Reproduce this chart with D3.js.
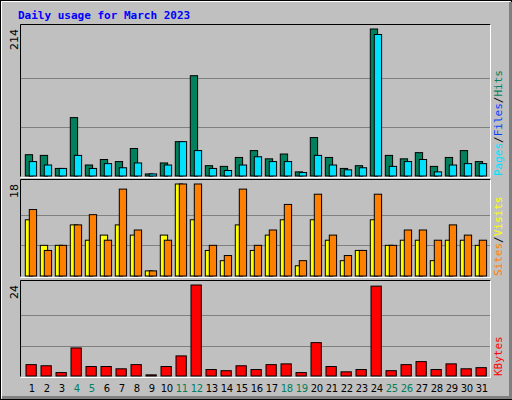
<!DOCTYPE html><html><head><meta charset="utf-8">
<script src="https://cdn.jsdelivr.net/npm/d3@7"></script>
<style>body{margin:0;background:#fff}</style></head><body>
<script>
const days = d3.range(1,32);
const weekends = [4,5,11,12,18,19,25,26];
const hits  = [31,30,11,85,16,24,21,40,3,19,50,146,15,14,27,37,25,32,6,56,27,11,15,214,30,25,34,14,27,37,21];
const pages = [21,16,11,30,11,18,12,19,3,16,50,37,11,8,16,28,21,21,5,30,16,9,12,206,14,21,24,6,16,18,18];
const visits= [11,6,6,10,7,8,10,8,1,8,18,11,5,3,10,5,8,11,2,11,7,3,5,11,6,7,7,3,7,7,6];
const sites = [13,5,6,10,12,7,17,9,1,7,18,18,6,4,17,6,9,14,3,16,8,4,5,16,6,9,9,7,10,8,7];
const kbytes= [3.0,2.7,0.9,7.4,2.5,2.5,1.9,3.0,0.3,2.5,5.3,24,1.7,1.4,2.7,1.7,3.0,3.2,0.9,8.8,2.5,1.1,1.7,23.7,1.4,3.0,3.8,1.7,3.2,1.9,2.2];
const maxLabels = ["214","18","24"];

const W=512,H=400;
const svg=d3.select("body").append("svg").attr("width",W).attr("height",H);
svg.append("rect").attr("x",0).attr("y",0).attr("width",W).attr("height",H).attr("fill","#c0c0c0");
svg.append("rect").attr("x",0.5).attr("y",0.5).attr("width",W-1).attr("height",H-1).attr("fill","none").attr("stroke","#000");
svg.append("path").attr("d","M1.5,398.5V1.5H510.5").attr("stroke","#fff").attr("fill","none");
svg.append("path").attr("d","M2,397.5H510.5V2").attr("stroke","#808080").attr("stroke-width",3).attr("fill","none");
svg.append("text").attr("x",18).attr("y",19).text("Daily usage for March 2023")
  .attr("font-family","DejaVu Sans Mono").attr("font-weight","bold").attr("font-size",11).attr("fill","#0000ff");

const x=d3.scaleLinear().domain([1,31]).range([25.3,475.3]);
const mono="DejaVu Sans Mono";
function panel(top,bottom,maxV,label,series,rlabels){
  const y=d3.scaleLinear().domain([0,maxV]).range([bottom,top+4]);
  const g=svg.append("g");
  g.append("rect").attr("x",21).attr("y",top).attr("width",469).attr("height",bottom-top).attr("fill","#c0c0c0");
  [maxV/3,2*maxV/3].forEach(v=>g.append("line").attr("x1",21).attr("x2",490).attr("y1",Math.round(y(v))+.5).attr("y2",Math.round(y(v))+.5).attr("stroke","#808080"));
  series.forEach(s=>{
    g.selectAll(null).data(s.data).enter().append("rect")
     .attr("x",(d,i)=>x(i+1)+s.off).attr("width",s.w)
     .attr("y",d=>y(d)).attr("height",d=>Math.max(0.5,bottom-y(d)))
     .attr("fill",s.c).attr("stroke","#000").attr("stroke-width",1);
  });
  g.append("path").attr("d",`M20.5,${bottom+0.5}V${top-0.5}H490.5`).attr("stroke","#000").attr("fill","none");
  g.append("path").attr("d",`M20.5,${bottom+1.5}H490.5V${top-0.5}`).attr("stroke","#fff").attr("fill","none");
  g.append("text").attr("transform",`translate(18,${y(maxV)}) rotate(-90)`).attr("text-anchor","end")
   .attr("font-family","DejaVu Sans").attr("font-size",11).text(label);
  const t=g.append("text").attr("transform",`translate(502,${bottom}) rotate(-90)`)
   .attr("font-family",mono).attr("font-size",11);
  rlabels.forEach((r,i)=>{ if(i) t.append("tspan").attr("fill","#000").text("/"); t.append("tspan").attr("fill",r[1]).text(r[0]); });
}
panel(25,176,214,maxLabels[0],[{data:hits,c:"#00805c",off:0,w:7.3},{data:pages,c:"#00e0ff",off:4,w:7.3}],
  [["Pages","#00e0ff"],["Files","#0040ff"],["Hits","#00805c"]]);
panel(180,276,18,maxLabels[1],[{data:visits,c:"#ffff00",off:0,w:7.3},{data:sites,c:"#ff8000",off:4,w:7.3}],
  [["Sites","#ff8000"],["Visits","#ffff00"]]);
panel(281,376,24,maxLabels[2],[{data:kbytes,c:"#ff0000",off:0.7,w:10.3}],[["KBytes","#ff0000"]]);

svg.selectAll(".dl").data(days).enter().append("text")
  .attr("x",d=>x(d)+6.5).attr("y",392).attr("text-anchor","middle")
  .attr("font-family","DejaVu Sans").attr("font-size",10).attr("letter-spacing",-0.4)
  .attr("fill",d=>weekends.includes(d)?"#00805c":"#000").text(d=>d);
</script></body></html>
